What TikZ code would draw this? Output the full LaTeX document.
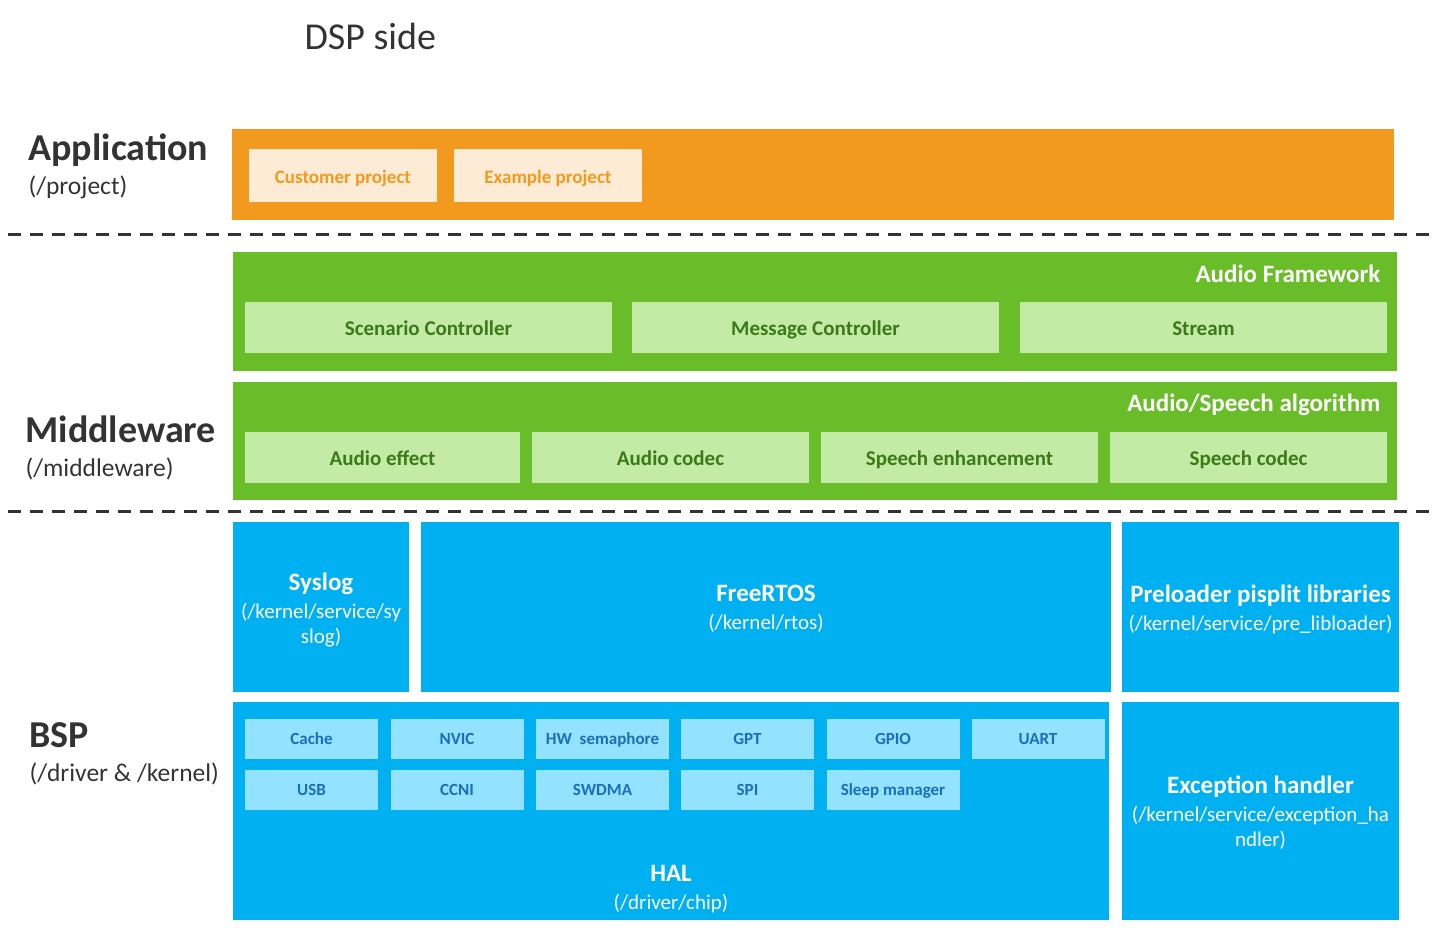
\documentclass[tikz,border=0pt]{standalone}
\usepackage{fontspec}
\setmainfont{Carlito}
\definecolor{appbg}{HTML}{F29A1E}
\definecolor{applt}{HTML}{FDEBD5}
\definecolor{mwbg}{HTML}{69BD28}
\definecolor{mwlt}{HTML}{C3EBA5}
\definecolor{mwtxt}{HTML}{3C7A18}
\definecolor{bspbg}{HTML}{00B0F0}
\definecolor{bsplt}{HTML}{93E2FF}
\definecolor{bsptxt}{HTML}{1B6FB8}
\definecolor{ink}{HTML}{333333}
\newcommand{\fz}[2]{\fontsize{#1}{#2}\selectfont}
\begin{document}
\begin{tikzpicture}[x=1pt,y=-1pt]

% Style for nodes
\tikzstyle{block}=[rectangle,inner sep=0,outer sep=0,draw=none]
\tikzstyle{appbox}=[block,fill=applt,text=appbg,font=\fz{19}{19}\bfseries,minimum width=188,minimum height=53,text height=16,text depth=0.8]
\tikzstyle{mwbox}=[block,fill=mwlt,text=mwtxt,font=\fz{21}{21}\bfseries,minimum height=51,text height=17,text depth=0.5]
\tikzstyle{halbox}=[block,fill=bsplt,text=bsptxt,font=\fz{17}{17}\bfseries,minimum width=133,minimum height=40,text height=12,text depth=1]
\tikzstyle{bspbox}=[block,fill=bspbg]
\tikzstyle{bsptext}=[text=white,align=center,font=\fz{21}{25}]
\tikzstyle{layer}=[anchor=west,text=ink,align=left,font=\fz{25.5}{26}]
\tikzstyle{title}=[anchor=east,text=white,font=\fz{25}{25}\bfseries]
\tikzstyle{sep}=[draw=ink,line width=3,dash pattern=on 13 off 9]
\useasboundingbox (0,0) rectangle (1434,929);

% Title
\node(dsp)[anchor=west,text=ink,font=\fz{38}{38}] at (301,36) {DSP side};

% Application layer
\node(appl)[layer] at (25,166) {{\fz{38}{38}\bfseries Application}\\[8pt](/project)};
\node(app)[block,fill=appbg,minimum width=1162,minimum height=91] at (813,174.5) {};
\node(cust)[appbox] at (343,175.5) {Customer project};
\node(exmp)[appbox] at (548,175.5) {Example project};

% Separators
\coordinate(s1a) at (8,234);   \coordinate(s1b) at (1430,234);
\coordinate(s2a) at (8,511);   \coordinate(s2b) at (1430,511);
\draw[sep] (s1a) -- (s1b);
\draw[sep] (s2a) -- (s2b);

% Middleware layer
\node(mwl)[layer] at (22,448) {{\fz{38}{38}\bfseries Middleware}\\[8pt](/middleware)};
\node(fw)[block,fill=mwbg,minimum width=1164,minimum height=119] at (815,311.5) {};
\node(fwt)[title] at (1384,274) {Audio Framework};
\node(scen)[mwbox,minimum width=367] at (428.5,327.5) {Scenario Controller};
\node(msg)[mwbox,minimum width=367] at (815.5,327.5) {Message Controller};
\node(strm)[mwbox,minimum width=367] at (1203.5,327.5) {Stream};
\node(algo)[block,fill=mwbg,minimum width=1164,minimum height=118] at (815,441) {};
\node(algt)[title] at (1384,405) {Audio/Speech algorithm};
\node(eff)[mwbox,minimum width=275] at (382.5,457.5) {Audio effect};
\node(acod)[mwbox,minimum width=277] at (670.5,457.5) {Audio codec};
\node(enh)[mwbox,minimum width=277] at (959.5,457.5) {Speech enhancement};
\node(scod)[mwbox,minimum width=277] at (1248.5,457.5) {Speech codec};

% BSP layer
\node(bspl)[layer] at (26,754) {{\fz{38}{38}\bfseries BSP}\\[8pt](/driver \& /kernel)};
\node(sysl)[bspbox,minimum width=176,minimum height=170] at (321,607) {};
\node(syslt)[bsptext] at (321,610) {{\fz{25}{25}\bfseries Syslog}\\[3pt](/kernel/service/sy\\slog)};
\node(rtos)[bspbox,minimum width=690,minimum height=170] at (766,607) {};
\node(rtost)[bsptext] at (766,609) {{\fz{25}{25}\bfseries FreeRTOS}\\[3pt](/kernel/rtos)};
\node(prel)[bspbox,minimum width=277,minimum height=170] at (1260.5,607) {};
\node(prelt)[bsptext] at (1260.5,609) {{\fz{25}{25}\bfseries Preloader pisplit libraries}\\[3pt](/kernel/service/pre\_libloader)};
\node(hal)[bspbox,minimum width=876,minimum height=218] at (671,811) {};
\node(halt)[bsptext] at (671,889) {{\fz{25}{25}\bfseries HAL}\\[3pt](/driver/chip)};
\node(exc)[bspbox,minimum width=277,minimum height=218] at (1260.5,811) {};
\node(exct)[bsptext] at (1260.5,813) {{\fz{25}{25}\bfseries Exception handler}\\[3pt](/kernel/service/exception\_ha\\ndler)};

% HAL drivers
\node(cache)[halbox] at (311.5,739) {Cache};
\node(nvic)[halbox] at (457,739) {NVIC};
\node(hwsem)[halbox] at (602.5,739) {HW\ \ semaphore};
\node(gpt)[halbox] at (747.5,739) {GPT};
\node(gpio)[halbox] at (893,739) {GPIO};
\node(uart)[halbox] at (1038,739) {UART};
\node(usb)[halbox] at (311.5,789.5) {USB};
\node(ccni)[halbox] at (457,789.5) {CCNI};
\node(swdma)[halbox] at (602.5,789.5) {SWDMA};
\node(spi)[halbox] at (747.5,789.5) {SPI};
\node(sleep)[halbox] at (893,789.5) {Sleep manager};
\end{tikzpicture}
\end{document}
